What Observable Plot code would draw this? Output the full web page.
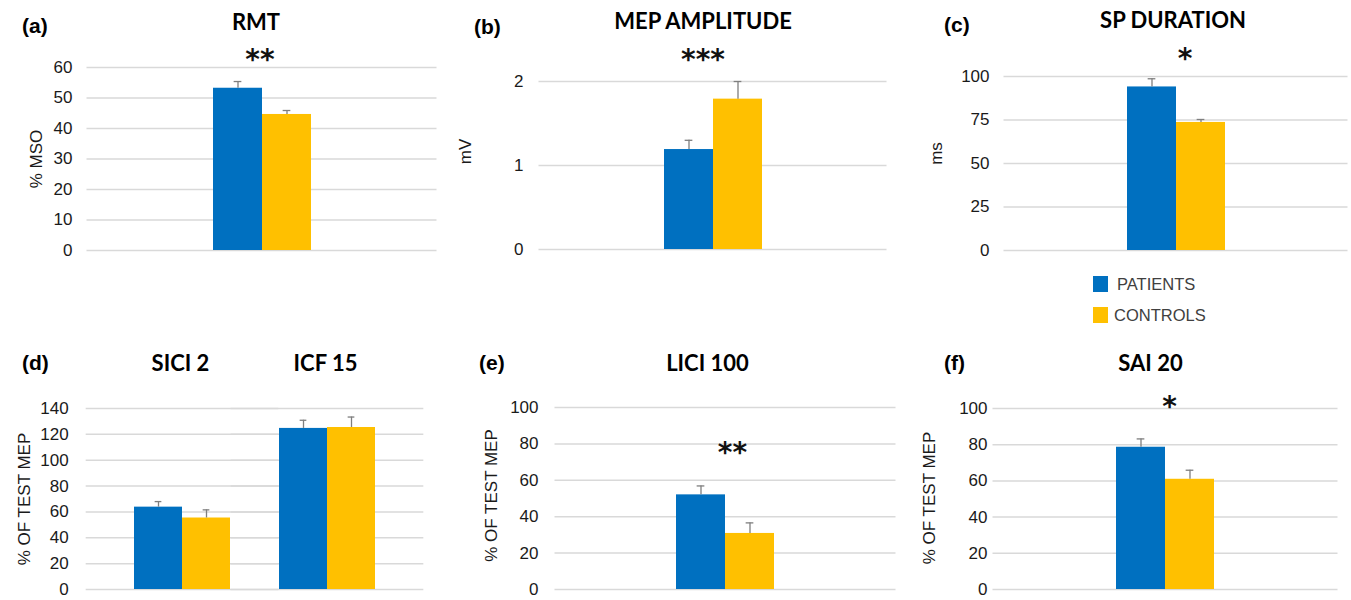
<!DOCTYPE html>
<html><head><meta charset="utf-8">
<script src="https://cdn.jsdelivr.net/npm/d3@7"></script>
<script src="https://cdn.jsdelivr.net/npm/@observablehq/plot@0.6"></script>
<style>
body{margin:0;background:#fff;}
#fig{position:relative;width:1351px;height:600px;overflow:hidden;background:#fff;font-family:"Liberation Sans",Arial,sans-serif;}
.panel{position:absolute;}
.letter{position:absolute;font:bold 21px "Liberation Sans",Arial,sans-serif;color:#000;line-height:1;}
.sw{position:absolute;width:15px;height:16px;}
.lt{position:absolute;font:16.5px "Liberation Sans",Arial,sans-serif;color:#404040;line-height:1;}
g[aria-label="stars"] text{letter-spacing:4px;}
</style></head><body><div id="fig"></div><script>
// ---- data ----
const groups = ["PATIENTS", "CONTROLS"];
const groupColors = ["#0070C0", "#FFC000"];
const panelLetters = ["(a)", "(b)", "(c)", "(d)", "(e)", "(f)"];
const categories = [["RMT"], ["MEP AMPLITUDE"], ["SP DURATION"], ["SICI 2", "ICF 15"], ["LICI 100"], ["SAI 20"]];
const yLabels = ["% MSO", "mV", "ms", "% OF TEST MEP", "% OF TEST MEP", "% OF TEST MEP"];
const patientsMean = [[53.2], [1.19], [94.0], [63.7, 124.6], [52.0], [78.6]];
const patientsErr  = [[2.2], [0.11], [4.7], [4.3, 6.3], [4.9], [4.6]];
const controlsMean = [[44.6], [1.79], [73.6], [55.3, 125.3], [30.8], [60.9]];
const controlsErr  = [[1.3], [0.21], [1.7], [6.3, 8.1], [5.8], [5.0]];
const significance = [["**"], ["***"], ["*"], ["", ""], ["**"], ["*"]];
const yTicks = [
  [0, 10, 20, 30, 40, 50, 60],
  [0, 1, 2],
  [0, 25, 50, 75, 100],
  [0, 20, 40, 60, 80, 100, 120, 140],
  [0, 20, 40, 60, 80, 100],
  [0, 20, 40, 60, 80, 100]
];

// ---- layout (styles) ----
const layout = [
  {left:0,   top:0,   width:450, height:262, mt:67, mr:14, mb:12, ml:87,  tickPad:15, labelDx:-51, labelDy:0,   titleDx:-6,  titleDy:-38, starDy:-21, starDx:-2, letter:[22,15]},
  {left:450, top:0,   width:450, height:262, mt:81, mr:14, mb:13, ml:89,  tickPad:16, labelDx:-74, labelDy:-14, titleDx:-10, titleDy:-53, starDy:-21, starDx:-10, letter:[474,16]},
  {left:900, top:0,   width:451, height:262, mt:76, mr:4,  mb:12, ml:104, tickPad:15, labelDx:-68, labelDy:-10, titleDx:-3,  titleDy:-49, starDy:-20, starDx:9, letter:[944,14]},
  {left:0,   top:320, width:450, height:280, mt:88, mr:27, mb:11, ml:86,  tickPad:18, labelDx:-62, labelDy:0,   titleDx:-2,  titleDy:-38, starDy:-21, starDx:0, letter:[22,352], fxIn:0.3, fxOut:0.308, xOut:0.05},
  {left:450, top:320, width:450, height:280, mt:87, mr:5,  mb:11, ml:105, tickPad:17, labelDx:-64, labelDy:-3,  titleDx:-18, titleDy:-37, starDy:-33, starDx:7, letter:[479,352]},
  {left:900, top:320, width:451, height:280, mt:88, mr:14, mb:11, ml:93,  tickPad:6,  labelDx:-64, labelDy:-1,  titleDx:-15, titleDy:-38, starDy:-32, starDx:4, letter:[944,352]}
];
const barW = 49.3;

const fig = document.getElementById("fig");

layout.forEach((L, i) => {
  const cats = categories[i];
  const rows = [];
  cats.forEach((c, j) => {
    rows.push({cat: c, group: groups[0], value: patientsMean[i][j], err: patientsErr[i][j]});
    rows.push({cat: c, group: groups[1], value: controlsMean[i][j], err: controlsErr[i][j]});
  });
  const sigRows = cats.map((c, j) => ({
    cat: c, sig: significance[i][j],
    top: Math.max(patientsMean[i][j] + patientsErr[i][j], controlsMean[i][j] + controlsErr[i][j])
  })).filter(d => d.sig);

  const frameW = L.width - L.ml - L.mr;
  const fxIn = L.fxIn ?? 0, fxOut = L.fxOut ?? 0;
  const step = frameW / (cats.length - fxIn + 2 * fxOut);
  const off = fxOut * step;               // first facet's offset from the frame's left edge
  const xOut = L.xOut ?? (frameW / barW - 2) / 2;
  const ticks = yTicks[i];

  const chart = Plot.plot({
    width: L.width, height: L.height,
    marginTop: L.mt, marginRight: L.mr, marginBottom: L.mb, marginLeft: L.ml,
    style: {fontFamily: '"Liberation Sans", Arial, sans-serif', fontSize: "17px", color: "#1a1a1a", background: "transparent", overflow: "visible"},
    fx: {domain: cats, axis: null, paddingInner: fxIn, paddingOuter: fxOut},
    x: {domain: groups, axis: null, paddingInner: 0, paddingOuter: xOut},
    y: {domain: [0, ticks[ticks.length - 1]]},
    color: {domain: groups, range: groupColors},
    marks: [
      Plot.ruleY(ticks, {stroke: "#d9d9d9", strokeWidth: 1.5, insetLeft: -(off + 0.5), insetRight: -(off + 0.5)}),
      Plot.barY(rows, {fx: "cat", x: "group", y: "value", fill: "group"}),
      Plot.ruleX(rows, {fx: "cat", x: "group", y1: "value", y2: d => d.value + d.err, stroke: "#7f7f7f", strokeWidth: 1.3}),
      Plot.tickY(rows, {fx: "cat", x: "group", y: d => d.value + d.err, stroke: "#7f7f7f", strokeWidth: 1.3, inset: (barW - 8) / 2}),
      Plot.axisY({ticks, tickSize: 0, tickPadding: L.tickPad, tickFormat: d => String(d), label: null, fontSize: 17, dx: -off}),
      Plot.text(sigRows, {fx: "cat", y: "top", text: "sig", dy: L.starDy, dx: L.starDx, fontSize: 28, fontWeight: "bold", fontFamily: '"DejaVu Sans", sans-serif', lineAnchor: "middle", fill: "#111", ariaLabel: "stars"}),
      Plot.text(cats, {fx: d => d, text: d => d, frameAnchor: "top", dy: L.titleDy, dx: L.titleDx, lineAnchor: "bottom", fontFamily: 'Lato, "Open Sans", sans-serif', fontWeight: "bold", fontSize: 22, fill: "#000"}),
      Plot.text([yLabels[i]], {text: d => d, frameAnchor: "left", rotate: -90, dx: L.labelDx - off, dy: L.labelDy, lineAnchor: "middle", textAnchor: "middle", fontSize: 17, fill: "#1a1a1a", facet: "super"})
    ]
  });
  chart.classList.add("panel");
  chart.style.left = L.left + "px";
  chart.style.top = L.top + "px";
  fig.appendChild(chart);

  const lt = document.createElement("div");
  lt.className = "letter";
  lt.textContent = panelLetters[i];
  lt.style.left = L.letter[0] + "px";
  lt.style.top = L.letter[1] + "px";
  fig.appendChild(lt);
});

// legend
const legendPos = [[1093, 276, 1117], [1093, 307, 1114]];
groups.forEach((g, k) => {
  const sw = document.createElement("div");
  sw.className = "sw";
  sw.style.background = groupColors[k];
  sw.style.left = legendPos[k][0] + "px";
  sw.style.top = legendPos[k][1] + "px";
  fig.appendChild(sw);
  const t = document.createElement("div");
  t.className = "lt";
  t.textContent = g;
  t.style.left = legendPos[k][2] + "px";
  t.style.top = (legendPos[k][1] + 0) + "px";
  fig.appendChild(t);
});
</script></body></html>
